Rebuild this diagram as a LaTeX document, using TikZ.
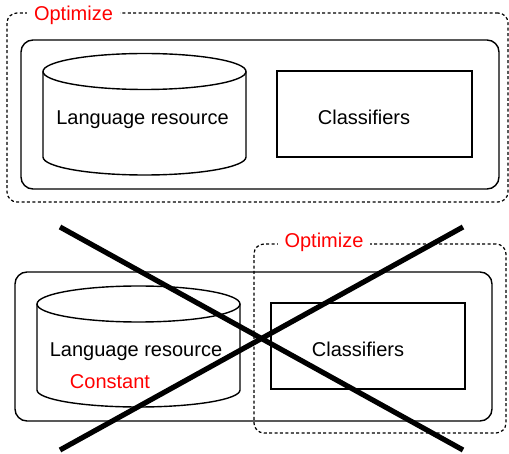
\documentclass[tikz,border=0pt]{standalone}
\usepackage{fontspec}
\setmainfont{Liberation Sans}
\usepackage{xcolor}
\usepackage{tikz}
\usetikzlibrary{backgrounds}

\begin{document}
\begin{tikzpicture}[
	x=0.5pt, y=-0.5pt,
	font=\fontsize{10pt}{12pt}\selectfont,
	sys/.style={draw, line width=0.7pt, rounded corners=6pt, inner sep=0pt},
	opt/.style={draw, line width=0.6pt, dash pattern=on 1.5pt off 1.2pt, rounded corners=5pt, inner sep=0pt},
	resline/.style={line width=0.7pt},
	cls/.style={draw, line width=0.7pt, rectangle, minimum width=97.5pt, minimum height=43pt, inner sep=0pt},
	txt/.style={anchor=base},
	tag/.style={anchor=base, text=red, fill=white, inner xsep=3.5pt, inner ysep=1pt},
	cross/.style={line width=2.6pt}
]
\useasboundingbox (0,0) rectangle (509,454);

% upper picture
\node[opt, minimum width=250.5pt, minimum height=94.5pt] (opt1) at (257.5,107.5) {};
\node[tag] (optlab1) at (73.5,21) {Optimize};
\node[sys, minimum width=239pt, minimum height=74.5pt] (sys1) at (260,114.5) {};
\draw[resline] (43,71.5) -- (43,157) arc[start angle=180, end angle=360, x radius=50.75pt, y radius=9pt] -- (246,71.5);
\draw[resline] (144.5,71.5) ellipse[x radius=50.75pt, y radius=9pt];
\node[txt] (reslab1) at (142.5,125) {Language resource};
\node[cls] (cls1) at (374.5,114) {};
\node[txt] (clslab1) at (364,125) {Classifiers};

% lower picture
\node[sys, minimum width=238.5pt, minimum height=74.5pt] (sys2) at (253.5,346.5) {};
\draw[resline] (37,304) -- (37,390) arc[start angle=180, end angle=360, x radius=50.75pt, y radius=8.5pt] -- (240,304);
\draw[resline] (138.5,304) ellipse[x radius=50.75pt, y radius=9pt];
\node[txt] (reslab2) at (136,357) {Language resource};
\node[txt, text=red] (constlab) at (110,388) {Constant};
\node[cls, minimum width=97pt] (cls2) at (368,346) {};
\node[txt] (clslab2) at (358,357) {Classifiers};
\node[opt, minimum width=126pt, minimum height=94.5pt] (opt2) at (380,338.5) {};
\node[tag] (optlab2) at (324,248) {Optimize};

% crossed out
\coordinate (c1) at (60,227);
\coordinate (c2) at (463,450);
\coordinate (c3) at (60,450);
\coordinate (c4) at (463,227);
\draw[cross] (c1) -- (c2);
\draw[cross] (c3) -- (c4);

\end{tikzpicture}
\end{document}
